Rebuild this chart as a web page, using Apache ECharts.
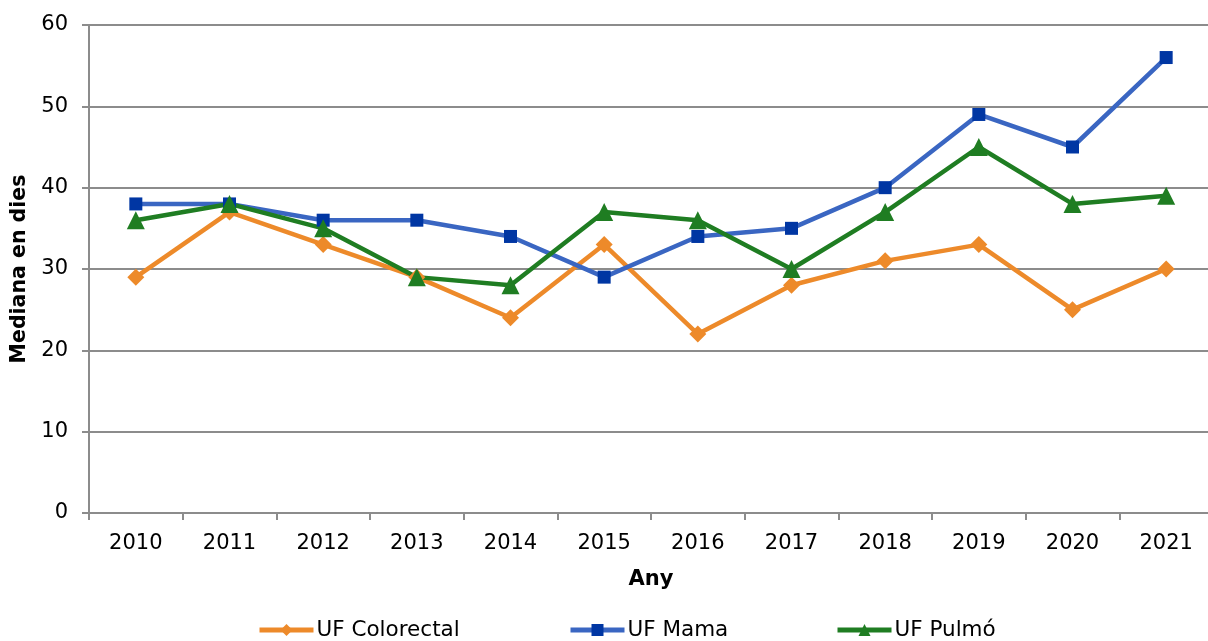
<!DOCTYPE html>
<html><head><meta charset="utf-8">
<script src="https://cdn.jsdelivr.net/npm/echarts@6/dist/echarts.min.js"></script>
<style>html,body{margin:0;padding:0;background:#fff}#c{width:1208px;height:641px}</style>
</head><body><div id="c"></div>
<script>
const years = ['2010','2011','2012','2013','2014','2015','2016','2017','2018','2019','2020','2021'];
const colorectal = [29, 37, 33, 29, 24, 33, 22, 28, 31, 33, 25, 30];
const mama = [38, 38, 36, 36, 34, 29, 34, 35, 40, 49, 45, 56];
const pulmo = [36, 38, 35, 29, 28, 37, 36, 30, 37, 45, 38, 39];
const seriesNames = ['UF Colorectal', 'UF Mama', 'UF Pulmó'];

const font = 'DejaVu Sans, sans-serif';
const chart = echarts.init(document.getElementById('c'), null, {renderer: 'canvas'});
function mk(name, data, lineColor, markColor, symbol, size) {
  return {
    name, type: 'line', data, symbol, symbolSize: size,
    lineStyle: {color: lineColor, width: 4.5},
    itemStyle: {color: markColor, borderWidth: 0},
    emphasis: {disabled: true},
    animation: false
  };
}
const legendLefts = [257, 568, 835];
chart.setOption({
  animation: false,
  grid: {left: 89, top: 25, width: 1124, height: 488, containLabel: false, outerBoundsMode: 'none'},
  legend: seriesNames.map((n, i) => ({
    top: 619, left: legendLefts[i], padding: 0,
    itemWidth: 54, itemHeight: 15,
    lineStyle: {width: 5},
    textStyle: {fontFamily: font, fontSize: 21.5, color: '#000', padding: [0,0,0,-2]},
    data: [n]
  })),
  xAxis: {
    type: 'category', data: years, boundaryGap: true,
    name: 'Any', nameLocation: 'middle', nameGap: 56,
    nameTextStyle: {fontFamily: font, fontSize: 21, fontWeight: 'bold', color: '#000'},
    axisLine: {lineStyle: {color: '#8c8c8c', width: 2}},
    axisTick: {show: true, length: 7, lineStyle: {color: '#8c8c8c', width: 2}},
    axisLabel: {fontFamily: font, fontSize: 21, color: '#000', margin: 20}
  },
  yAxis: {
    type: 'value', min: 0, max: 60, interval: 10,
    name: 'Mediana en dies', nameLocation: 'middle', nameGap: 58,
    nameTextStyle: {fontFamily: font, fontSize: 20.5, fontWeight: 'bold', color: '#000'},
    axisLine: {show: true, lineStyle: {color: '#8c8c8c', width: 2}},
    axisTick: {show: true, length: 7, lineStyle: {color: '#8c8c8c', width: 2}},
    axisLabel: {fontFamily: font, fontSize: 21, color: '#000', margin: 21},
    splitLine: {lineStyle: {color: '#8c8c8c', width: 2}}
  },
  series: [
    mk(seriesNames[0], colorectal, '#ed8a2a', '#ed8a2a', 'diamond', 17),
    mk(seriesNames[1], mama, '#3a66c2', '#0036a3', 'rect', 13),
    mk(seriesNames[2], pulmo, '#1f7d22', '#1f7d22', 'triangle', 18)
  ]
});
</script></body></html>
